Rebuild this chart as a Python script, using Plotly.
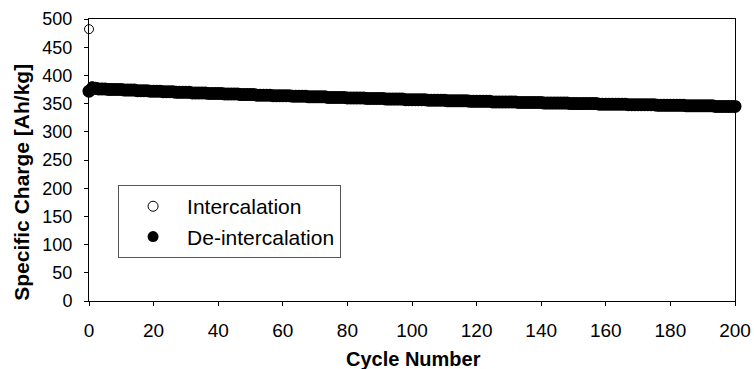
import plotly.graph_objects as go

cycles = list(range(0, 201))

intercalation = [
    482, 381, 379, 378, 378, 377, 377, 377, 376, 376,
    376, 375, 375, 375, 375, 374, 374, 374, 374, 373,
    373, 373, 373, 372, 372, 372, 372, 371, 371, 371,
    371, 371, 370, 370, 370, 370, 370, 369, 369, 369,
    369, 369, 368, 368, 368, 368, 368, 367, 367, 367,
    367, 367, 366, 366, 366, 366, 366, 365, 365, 365,
    365, 365, 365, 364, 364, 364, 364, 364, 363, 363,
    363, 363, 363, 363, 362, 362, 362, 362, 362, 362,
    361, 361, 361, 361, 361, 361, 360, 360, 360, 360,
    360, 360, 359, 359, 359, 359, 359, 359, 358, 358,
    358, 358, 358, 358, 358, 357, 357, 357, 357, 357,
    357, 356, 356, 356, 356, 356, 356, 356, 355, 355,
    355, 355, 355, 355, 355, 354, 354, 354, 354, 354,
    354, 354, 354, 353, 353, 353, 353, 353, 353, 353,
    353, 352, 352, 352, 352, 352, 352, 352, 352, 351,
    351, 351, 351, 351, 351, 351, 351, 351, 350, 350,
    350, 350, 350, 350, 350, 350, 350, 349, 349, 349,
    349, 349, 349, 349, 349, 349, 348, 348, 348, 348,
    348, 348, 348, 348, 348, 347, 347, 347, 347, 347,
    347, 347, 347, 347, 346, 346, 346, 346, 346, 346,
    346,
]

deintercalation = [
    372, 377, 377, 376, 376, 376, 375, 375, 375, 375,
    375, 374, 374, 374, 374, 373, 373, 373, 373, 372,
    372, 372, 372, 371, 371, 371, 371, 370, 370, 370,
    370, 370, 369, 369, 369, 369, 369, 368, 368, 368,
    368, 368, 367, 367, 367, 367, 367, 366, 366, 366,
    366, 366, 365, 365, 365, 365, 365, 364, 364, 364,
    364, 364, 364, 363, 363, 363, 363, 363, 362, 362,
    362, 362, 362, 362, 361, 361, 361, 361, 361, 361,
    360, 360, 360, 360, 360, 360, 359, 359, 359, 359,
    359, 359, 358, 358, 358, 358, 358, 358, 357, 357,
    357, 357, 357, 357, 357, 356, 356, 356, 356, 356,
    356, 355, 355, 355, 355, 355, 355, 355, 354, 354,
    354, 354, 354, 354, 354, 353, 353, 353, 353, 353,
    353, 353, 353, 352, 352, 352, 352, 352, 352, 352,
    352, 351, 351, 351, 351, 351, 351, 351, 351, 350,
    350, 350, 350, 350, 350, 350, 350, 350, 349, 349,
    349, 349, 349, 349, 349, 349, 349, 348, 348, 348,
    348, 348, 348, 348, 348, 348, 347, 347, 347, 347,
    347, 347, 347, 347, 347, 346, 346, 346, 346, 346,
    346, 346, 346, 346, 345, 345, 345, 345, 345, 345,
    345,
]

series_names = ["Intercalation", "De-intercalation"]
x_ticks = list(range(0, 201, 20))
y_ticks = list(range(0, 501, 50))

FONT = "Arial, Liberation Sans, sans-serif"

open_marker = dict(symbol="circle", size=9, color="white",
                   line=dict(color="black", width=1))
filled_marker = dict(symbol="circle", size=13, color="black",
                     line=dict(color="black", width=0))

fig = go.Figure()
fig.add_trace(go.Scatter(
    x=cycles, y=intercalation, mode="markers", name=series_names[0],
    marker=open_marker, showlegend=False, cliponaxis=False,
))
fig.add_trace(go.Scatter(
    x=cycles, y=deintercalation, mode="markers", name=series_names[1],
    marker=filled_marker, showlegend=False, cliponaxis=False,
))
# legend entries
fig.add_trace(go.Scatter(
    x=[None], y=[None], mode="markers", name=series_names[0],
    marker=dict(symbol="circle", size=10, color="white",
                line=dict(color="black", width=1)),
))
fig.add_trace(go.Scatter(
    x=[None], y=[None], mode="markers", name=series_names[1],
    marker=dict(symbol="circle", size=11, color="black",
                line=dict(color="black", width=0)),
))

fig.update_layout(
    width=754, height=369,
    margin=dict(l=89, r=19, t=19, b=68),
    paper_bgcolor="white", plot_bgcolor="white",
    font=dict(family=FONT, size=18, color="black"),
    showlegend=True,
    legend=dict(
        x=0.045, y=0.411, xanchor="left", yanchor="top",
        bgcolor="white", bordercolor="#555555", borderwidth=1,
        font=dict(size=21, family=FONT),
        itemsizing="trace", itemwidth=58, tracegroupgap=0,
    ),
    xaxis=dict(
        range=[0, 200], tickvals=x_ticks, ticks="outside", ticklen=4,
        tickcolor="black", showline=True, linecolor="black", linewidth=1,
        mirror=True, showgrid=False, zeroline=False, automargin=False,
        tickfont=dict(size=19), ticklabelstandoff=8,
    ),
    yaxis=dict(
        range=[0, 500], tickvals=y_ticks, ticks="outside", ticklen=4,
        tickcolor="black", showline=True, linecolor="black", linewidth=1,
        mirror=True, showgrid=False, zeroline=False, automargin=False,
        tickfont=dict(size=18), ticklabelstandoff=8,
    ),
    annotations=[
        dict(text="<b>Cycle Number</b>", xref="paper", yref="paper",
             x=0.503, y=-0.206, xanchor="center", yanchor="middle",
             showarrow=False, font=dict(size=20, family=FONT)),
        dict(text="<b>Specific Charge [Ah/kg]</b>", xref="paper", yref="paper",
             x=-0.105, y=0.42, xanchor="center", yanchor="middle",
             textangle=-90, showarrow=False, font=dict(size=21, family=FONT)),
    ],
)

fig.write_html("out.html")
